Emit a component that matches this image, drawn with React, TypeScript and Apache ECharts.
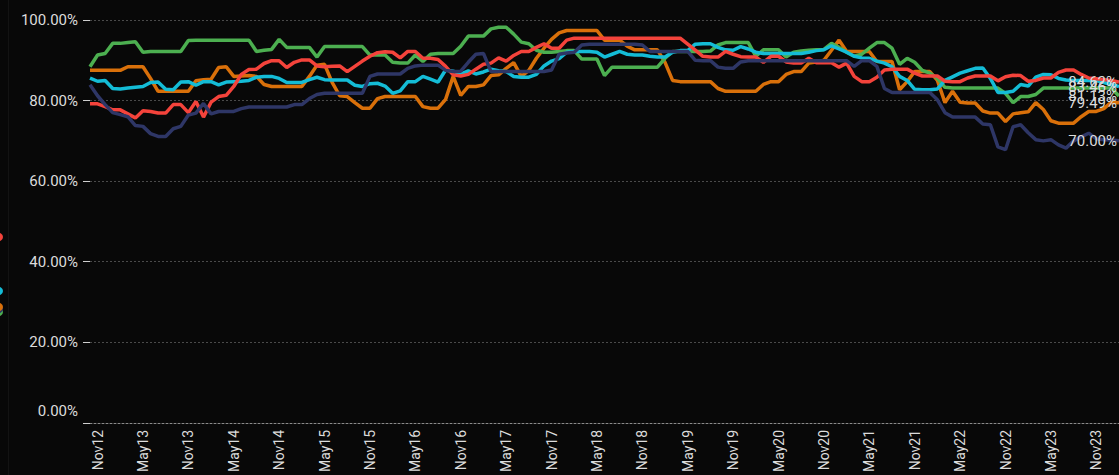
import React, { useEffect, useRef } from "react";
import * as echarts from "echarts";

// Monthly categories Oct 2012 .. Feb 2024
const monthNames = ["Jan", "Feb", "Mar", "Apr", "May", "Jun", "Jul", "Aug", "Sep", "Oct", "Nov", "Dec"];
const categories: string[] = [];
for (let y = 2012, m = 9; y < 2024 || (y === 2024 && m <= 1); ) {
  categories.push(monthNames[m] + String(y).slice(2));
  m++;
  if (m === 12) { m = 0; y++; }
}

const yTicks = [0, 20, 40, 60, 80, 100];

const seriesRed = [
  79.2, 79.2, 78.5, 77.7, 77.7, 76.7, 75.7, 77.5, 77.3, 76.9,
  76.9, 79.0, 79.0, 77.0, 79.8, 75.9, 79.6, 81.0, 81.3, 83.5,
  86.5, 87.7, 87.8, 89.2, 89.9, 89.9, 88.2, 89.5, 90.1, 90.1,
  88.6, 88.4, 88.5, 88.6, 87.2, 88.5, 89.8, 91.0, 91.9, 92.1,
  92.0, 90.6, 92.2, 92.2, 90.5, 90.5, 90.2, 88.5, 86.4, 86.1,
  86.5, 87.8, 89.0, 89.3, 90.6, 89.8, 91.2, 92.2, 92.2, 93.2,
  94.1, 93.0, 93.0, 95.0, 95.5, 95.5, 95.5, 95.5, 95.5, 95.5,
  95.5, 95.5, 95.5, 95.5, 95.5, 95.5, 95.5, 95.5, 95.5, 94.0,
  92.5, 91.0, 90.8, 90.8, 92.2, 91.5, 90.9, 90.8, 90.8, 89.5,
  91.0, 91.0, 89.6, 89.3, 89.3, 90.5, 89.4, 89.4, 89.4, 88.3,
  89.3, 86.0, 84.7, 84.7, 85.8, 87.6, 87.8, 87.8, 87.8, 86.8,
  86.1, 86.1, 86.1, 84.8, 84.7, 84.7, 85.6, 86.1, 86.1, 86.1,
  84.9, 85.9, 86.3, 86.2, 84.8, 85.0, 85.6, 85.6, 87.0, 87.6,
  87.6, 86.5, 85.6, 85.4, 85.2, 85.0, 84.62,
];

const seriesGreen = [
  88.4, 91.3, 91.7, 94.2, 94.2, 94.4, 94.6, 92.0, 92.2, 92.2,
  92.2, 92.2, 92.2, 94.9, 95.0, 95.0, 95.0, 95.0, 95.0, 95.0,
  95.0, 95.0, 92.2, 92.5, 92.7, 95.2, 93.2, 93.2, 93.2, 93.2,
  90.8, 93.4, 93.4, 93.4, 93.4, 93.4, 93.4, 91.3, 91.3, 91.3,
  89.5, 89.3, 89.3, 91.3, 89.7, 91.5, 91.7, 91.7, 91.7, 93.5,
  96.0, 96.0, 96.0, 97.8, 98.2, 98.2, 96.5, 94.5, 94.1, 92.5,
  92.0, 92.0, 92.2, 92.4, 92.4, 90.3, 90.3, 90.3, 86.2, 88.3,
  88.3, 88.3, 88.3, 88.3, 88.3, 88.3, 90.5, 92.2, 92.2, 92.2,
  92.2, 92.2, 92.3, 93.8, 94.4, 94.4, 94.4, 94.4, 91.0, 92.6,
  92.6, 92.6, 90.8, 92.0, 92.3, 92.5, 92.6, 92.7, 94.2, 93.2,
  92.0, 91.0, 91.5, 93.0, 94.4, 94.4, 93.0, 89.0, 90.5, 89.5,
  87.5, 86.8, 85.5, 83.3, 83.1, 83.1, 83.1, 83.1, 83.1, 83.1,
  83.1, 81.8, 79.5, 81.0, 81.0, 81.5, 83.1, 83.1, 83.1, 83.1,
  83.1, 83.1, 83.1, 83.1, 83.1, 83.1, 81.13,
];

const seriesOrange = [
  87.5, 87.5, 87.5, 87.5, 87.5, 88.4, 88.4, 88.4, 85.5, 82.3,
  82.3, 82.3, 82.3, 82.3, 84.9, 85.2, 85.3, 88.2, 88.4, 86.0,
  86.1, 86.2, 86.0, 84.0, 83.5, 83.5, 83.5, 83.5, 83.5, 86.0,
  88.8, 89.0, 84.5, 81.2, 81.0, 79.5, 78.1, 78.1, 80.5, 81.0,
  81.0, 81.0, 81.0, 81.0, 78.5, 78.1, 78.1, 80.3, 86.0, 81.3,
  83.5, 83.5, 83.9, 86.2, 86.4, 88.0, 89.4, 86.0, 87.5, 90.5,
  93.0, 95.2, 96.8, 97.4, 97.4, 97.4, 97.4, 97.4, 95.0, 95.0,
  95.0, 93.5, 92.6, 92.6, 92.6, 92.6, 89.5, 85.0, 84.7, 84.7,
  84.7, 84.7, 84.7, 83.0, 82.3, 82.3, 82.3, 82.3, 82.3, 84.0,
  84.7, 84.7, 86.5, 87.2, 87.2, 89.3, 89.6, 90.0, 92.5, 95.0,
  92.2, 92.2, 92.2, 92.2, 89.7, 89.7, 89.7, 82.7, 84.7, 87.2,
  87.2, 87.2, 85.0, 79.5, 82.3, 79.6, 79.4, 79.4, 77.4, 76.9,
  76.9, 74.8, 76.7, 77.0, 77.2, 79.5, 77.8, 75.0, 74.4, 74.4,
  74.4, 76.0, 77.3, 77.3, 78.0, 79.6, 79.49,
];

const seriesCyan = [
  85.6, 84.8, 85.0, 83.0, 82.9, 83.1, 83.3, 83.5, 84.5, 84.6,
  82.8, 82.7, 84.6, 84.7, 83.8, 84.7, 84.7, 83.9, 84.6, 84.7,
  84.8, 85.0, 85.8, 86.0, 86.0, 85.5, 84.5, 84.5, 84.5, 85.2,
  85.8, 85.2, 85.1, 85.1, 85.1, 83.8, 83.5, 84.2, 84.3, 83.6,
  81.8, 82.4, 84.7, 84.7, 86.0, 85.3, 84.6, 87.6, 87.3, 86.6,
  87.4, 86.6, 87.1, 87.8, 87.4, 87.2, 86.0, 85.8, 85.8, 86.5,
  88.6, 89.8, 90.4, 92.0, 92.2, 92.2, 92.2, 92.0, 90.8, 91.5,
  92.2, 91.5, 91.3, 91.3, 91.0, 90.8, 90.8, 92.0, 92.4, 92.4,
  94.0, 94.1, 94.1, 93.2, 92.6, 92.5, 93.4, 92.8, 92.0, 91.7,
  91.7, 91.7, 91.7, 91.7, 91.7, 92.0, 92.4, 92.6, 93.6, 92.8,
  92.0, 91.0, 90.6, 90.5, 89.8, 89.3, 88.4, 86.0, 85.0, 82.8,
  82.7, 82.7, 82.9, 85.0, 85.9, 86.8, 87.4, 88.0, 88.1, 85.5,
  82.0, 82.0, 82.3, 84.0, 83.6, 85.8, 86.5, 86.4, 85.5, 85.1,
  85.0, 85.0, 85.0, 85.0, 84.5, 84.0, 83.46,
];

const seriesNavy = [
  83.9, 81.2, 79.0, 77.0, 76.5, 76.0, 73.8, 73.6, 71.8, 71.1,
  71.1, 73.0, 73.6, 76.4, 76.9, 79.3, 76.7, 77.3, 77.3, 77.3,
  78.0, 78.4, 78.4, 78.4, 78.4, 78.4, 78.4, 79.0, 79.0, 80.5,
  81.5, 81.8, 81.8, 81.8, 81.8, 81.8, 81.8, 86.0, 86.6, 86.6,
  86.6, 86.6, 88.0, 88.6, 88.8, 88.8, 88.8, 87.5, 87.2, 87.3,
  89.5, 91.5, 91.7, 87.2, 87.2, 87.2, 87.2, 87.2, 87.2, 87.2,
  87.2, 87.6, 91.5, 91.8, 92.0, 93.8, 94.0, 94.0, 94.0, 94.0,
  94.0, 94.0, 94.0, 93.8, 92.2, 92.2, 92.2, 92.2, 92.2, 92.2,
  90.0, 89.9, 89.9, 88.3, 88.0, 88.0, 89.6, 89.9, 89.9, 89.9,
  89.9, 89.9, 89.9, 89.9, 89.9, 89.9, 89.9, 89.9, 89.9, 89.9,
  89.9, 88.5, 89.9, 89.9, 88.5, 83.0, 82.0, 82.0, 82.0, 82.0,
  82.0, 82.0, 80.2, 77.0, 75.9, 75.9, 75.9, 75.9, 74.2, 74.0,
  68.5, 67.8, 73.5, 74.0, 72.0, 70.3, 70.0, 70.3, 69.0, 68.2,
  70.0, 71.0, 71.9, 70.5, 70.3, 70.2, 70.0,
];

const seriesDefs = [
  { name: "Series 3", data: seriesOrange, color: "#d9700a" },
  { name: "Series 5", data: seriesGreen, color: "#4caf50" },
  { name: "Series 2", data: seriesCyan, color: "#14bcd6" },
  { name: "Series 1", data: seriesRed, color: "#f4433b" },
  { name: "Series 4", data: seriesNavy, color: "#2e3666" },
];

const textColor = "#dcdcdc";
const fontFamily = "Roboto, 'Noto Sans', sans-serif";

export default function App() {
  const ref = useRef<HTMLDivElement>(null);
  useEffect(() => {
    if (!ref.current) return;
    const chart = echarts.init(ref.current, undefined, { renderer: "svg" });
    chart.setOption({
      animation: false,
      backgroundColor: "#080808",
      textStyle: { fontFamily },
      grid: { left: 90, right: 0, top: 20, bottom: 51, containLabel: false },
      xAxis: {
        type: "category",
        data: categories,
        boundaryGap: false,
        axisLine: { show: true, lineStyle: { color: "#8a8a8a", type: [2, 2], width: 1 } },
        axisTick: { show: false },
        axisLabel: {
          rotate: 90,
          color: textColor,
          fontSize: 14,
          fontFamily,
          margin: 7,
          interval: (_i: number, v: string) => v.startsWith("Nov") || v.startsWith("May"),
        },
        splitLine: { show: false },
      },
      yAxis: {
        type: "value",
        min: yTicks[0],
        max: yTicks[yTicks.length - 1],
        interval: 20,
        axisLine: { show: false },
        axisTick: { show: true, length: 7, lineStyle: { color: "#cfcfcf" } },
        axisLabel: {
          color: textColor,
          fontSize: 15,
          fontFamily,
          margin: 12,
          formatter: (v: number) => (v === 0 ? "{z|0.00%}" : v.toFixed(2) + "%"),
          rich: { z: { color: textColor, fontSize: 15, fontFamily, padding: [0, 0, 24, 0] } },
        },
        splitLine: { show: true, lineStyle: { color: "#4a4a4a", type: [2, 2], width: 1 } },
      },
      series: seriesDefs.map((s) => ({
        name: s.name,
        type: "line",
        symbol: "none",
        showSymbol: false,
        lineStyle: { width: 3.5, color: s.color },
        itemStyle: { color: s.color },
        data: s.data,
        endLabel: {
          show: true,
          align: "right",
          offset: [-10, 0],
          color: textColor,
          fontSize: 15,
          fontFamily,
          formatter: (p: any) => Number(p.value).toFixed(2) + "%",
        },
      })),
      graphic: [
        { type: "rect", shape: { x: 8, y: 0, width: 1, height: 475 }, style: { fill: "#131313" }, silent: true },
        { type: "circle", shape: { cx: -1, cy: 237, r: 4 }, style: { fill: "#f4433b" } },
        { type: "circle", shape: { cx: -1, cy: 291, r: 4 }, style: { fill: "#14bcd6" } },
        { type: "circle", shape: { cx: -1, cy: 312, r: 4 }, style: { fill: "#4caf50" } },
        { type: "circle", shape: { cx: -1, cy: 309, r: 4 }, style: { fill: "#2e3666" } },
        { type: "circle", shape: { cx: -1, cy: 307, r: 4 }, style: { fill: "#d9700a" } },
      ],
    });
    return () => chart.dispose();
  }, []);
  return (
    <div
      style={{ position: "fixed", left: 0, top: 0, width: 1119, height: 475, background: "#080808" }}
    >
      <div ref={ref} style={{ width: 1119, height: 475 }} />
    </div>
  );
}
